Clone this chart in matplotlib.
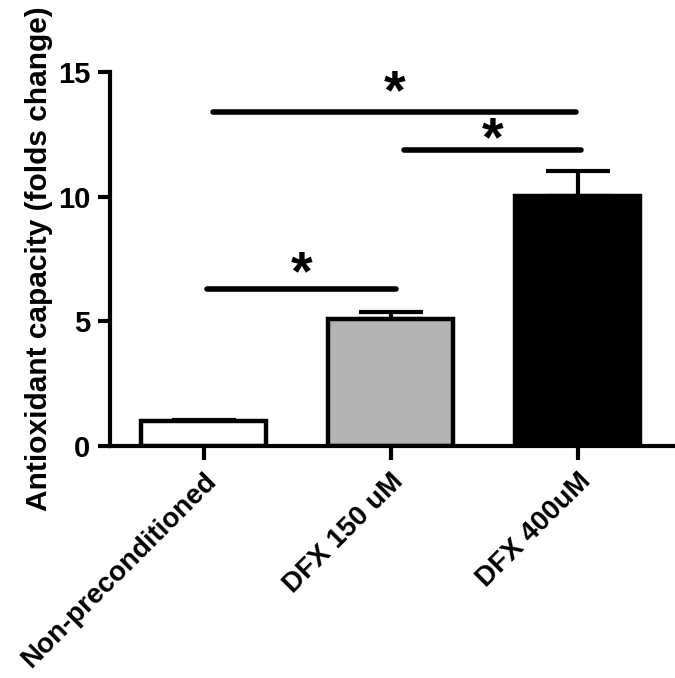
import numpy as np
import matplotlib.pyplot as plt

plt.rcParams['font.family'] = ['Liberation Sans', 'DejaVu Sans']
plt.rcParams['font.weight'] = 'bold'

groups = ["Non-preconditioned", "DFX 150 uM", "DFX 400uM"]
means = [1.0, 5.08, 10.04]
errors = [0.06, 0.28, 1.0]
colors = ["white", "#b3b3b3", "black"]

# significance bars: (start, end, line height, star height)
sig_pairs = [(0.05, 1.99, 13.4, 14.35), (1.07, 2.02, 11.85, 12.45), (0.02, 1.03, 6.28, 7.1)]

fig = plt.figure(figsize=(6.75, 6.78), dpi=100)
ax = fig.add_axes([0.163, 0.342, 0.837, 0.552])

x = np.arange(len(groups))
ax.bar(x, means, width=0.67, color=colors, edgecolor="black", linewidth=3.2, zorder=2)
ax.errorbar(x, means, yerr=[np.zeros(3), errors], fmt="none", ecolor="black",
            elinewidth=3, capsize=23, capthick=3, zorder=1)

for x0, x1, h, sh in sig_pairs:
    ax.plot([x0, x1], [h, h], color="black", lw=4, solid_capstyle="round")
    ax.text((x0 + x1) / 2, sh, "*", ha="center", va="center_baseline",
            fontsize=40, fontweight="bold")

ax.set_xlim(-0.5, 2.52)
ax.set_ylim(0, 15)
ax.set_yticks([0, 5, 10, 15])
ax.set_xticks(x)
ax.set_xticklabels(groups, rotation=45, ha="right", rotation_mode="anchor",
                   fontsize=20, fontweight="bold")
ax.tick_params(axis="y", labelsize=21, width=3, length=9, pad=5)
ax.tick_params(axis="x", width=3, length=10, pad=6)
for lab in ax.get_yticklabels():
    lab.set_fontweight("bold")

ax.spines["top"].set_visible(False)
ax.spines["right"].set_visible(False)
ax.spines["left"].set_linewidth(3)
ax.spines["bottom"].set_linewidth(3)

ax.set_ylabel("Antioxidant capacity (folds change)", fontsize=21.5,
              fontweight="bold", labelpad=4)

fig.savefig("out.png", dpi=100)
